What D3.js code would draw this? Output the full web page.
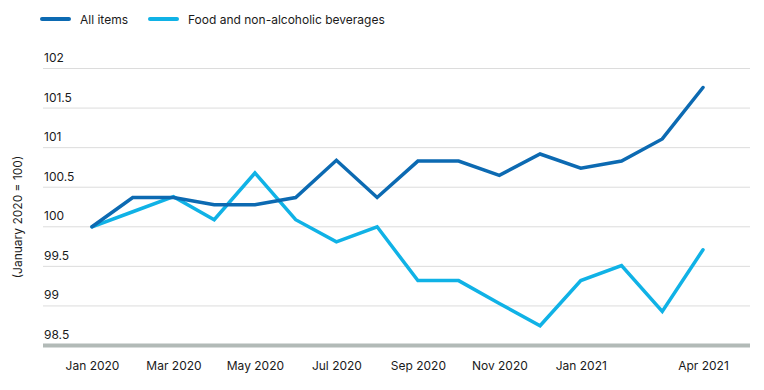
<!DOCTYPE html>
<html><head><meta charset="utf-8">
<script src="https://cdn.jsdelivr.net/npm/d3@7"></script>
<style>
body{margin:0;background:#fff;}
svg{display:block;font-family:Inter, "Noto Sans", sans-serif;}
</style></head>
<body><svg id="c" width="764" height="390"></svg>
<script>
const months = ["Jan 2020","Feb 2020","Mar 2020","Apr 2020","May 2020","Jun 2020","Jul 2020","Aug 2020","Sep 2020","Oct 2020","Nov 2020","Dec 2020","Jan 2021","Feb 2021","Mar 2021","Apr 2021"];
const allItems = [100,100.37,100.37,100.28,100.28,100.37,100.84,100.37,100.83,100.83,100.65,100.92,100.74,100.83,101.11,101.76];
const food = [100,100.19,100.38,100.09,100.68,100.09,99.81,100.0,99.32,99.32,99.03,98.75,99.32,99.51,98.93,99.71];
const xTickLabels = ["Jan 2020","Mar 2020","May 2020","Jul 2020","Sep 2020","Nov 2020","Jan 2021","Apr 2021"];
const yTicks = [98.5,99,99.5,100,100.5,101,101.5,102];
const seriesNames = ["All items","Food and non-alcoholic beverages"];
const colors = ["#0c6ab2","#10b2e6"];

const svg = d3.select("#c");
const x = d3.scalePoint().domain(months).range([92,703]);
const y = d3.scaleLinear().domain([98.5,102]).range([345.5,68.5]);
const gx0 = 43, gx1 = 750;

// gridlines
svg.append("g").selectAll("line").data(yTicks.filter(d=>d!==98.5)).join("line")
  .attr("x1",gx0).attr("x2",gx1).attr("y1",d=>y(d)).attr("y2",d=>y(d))
  .attr("stroke","#dcdcdc").attr("stroke-width",1);
// y labels
svg.append("g").selectAll("text").data(yTicks).join("text")
  .attr("x",gx0+1).attr("y",d=>y(d)-6.5).text(d=>d)
  .attr("font-size",12).attr("fill","#1a1a1a");
// baseline
svg.append("line").attr("x1",gx0).attr("x2",gx1).attr("y1",y(98.5)).attr("y2",y(98.5))
  .attr("stroke","#b2bab7").attr("stroke-width",4);
// y title
svg.append("text").attr("transform",`translate(22,${(y(98.5)+y(102))/2+10}) rotate(-90)`)
  .attr("text-anchor","middle").attr("font-size",12).attr("fill","#1a1a1a").text("(January 2020 = 100)");
// x axis
const xAxis = d3.axisBottom(x).tickValues(xTickLabels).tickSize(0).tickPadding(0);
const gxa = svg.append("g").attr("transform","translate(0,361)").call(xAxis);
gxa.select(".domain").remove();
gxa.selectAll("text").attr("font-size",12).attr("fill","#1a1a1a").attr("font-family","Inter, 'Noto Sans', sans-serif").attr("dy","0.71em");

const line = d3.line().x((d,i)=>x(months[i])).y(d=>y(d));
[food, allItems].forEach((s,k)=>{
  const ci = k===0?1:0;
  svg.append("path").datum(s).attr("d",line).attr("fill","none")
    .attr("stroke",colors[ci]).attr("stroke-width",3.5).attr("stroke-linejoin","miter").attr("stroke-linecap","round");
});

// legend
const leg = [{x:42},{x:150}];
seriesNames.forEach((n,i)=>{
  svg.append("line").attr("x1",leg[i].x).attr("x2",leg[i].x+27).attr("y1",19).attr("y2",19)
    .attr("stroke",colors[i]).attr("stroke-width",4).attr("stroke-linecap","round");
  svg.append("text").attr("x",leg[i].x+38).attr("y",23.5).attr("font-size",12).attr("fill","#1a1a1a").text(n);
});
</script></body></html>
